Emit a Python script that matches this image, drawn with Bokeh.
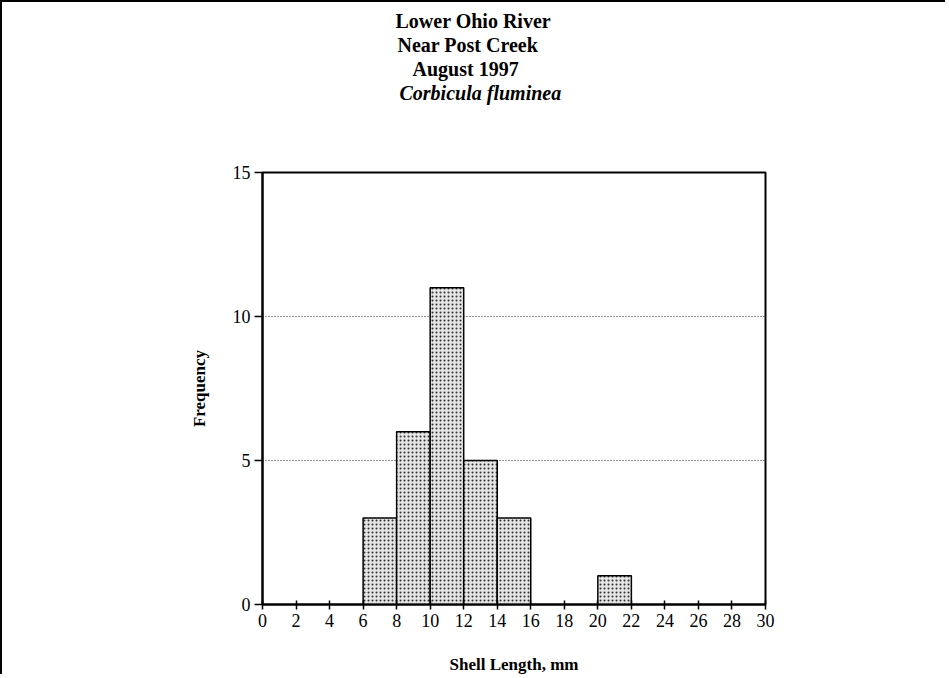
from bokeh.plotting import figure
from bokeh.models import FixedTicker, Title, Range1d
from bokeh.embed import file_html
from bokeh.resources import INLINE

# Data
bin_left = [6, 8, 10, 12, 14, 20]
bin_right = [8, 10, 12, 14, 16, 22]
frequency = [3, 6, 11, 5, 3, 1]
x_ticks = list(range(0, 31, 2))
y_ticks = [0, 5, 10, 15]
title_lines = ["Lower Ohio River", "Near Post Creek", "August 1997", "Corbicula fluminea"]
x_label = "Shell Length, mm"
y_label = "Frequency"

W, H = 945, 674
p = figure(width=W, height=H, output_backend="svg", toolbar_location=None,
           x_range=Range1d(0, 30), y_range=Range1d(0, 15),
           min_border_left=260, min_border_right=W - 763,
           min_border_top=170, min_border_bottom=H - 606)
p.styles = {"border-left": "2px solid black", "border-top": "2px solid black"}

p.outline_line_color = "black"
p.outline_line_width = 2
p.background_fill_color = "white"
p.border_fill_color = "white"

p.xgrid.visible = False
p.ygrid.ticker = FixedTicker(ticks=[5, 10])
p.ygrid.grid_line_color = "#222222"
p.ygrid.grid_line_dash = "1 2"
p.ygrid.grid_line_width = 1

p.quad(left=bin_left, right=bin_right, top=frequency, bottom=0,
       fill_color="#e4e4e4", hatch_pattern="dot", hatch_color="black",
       hatch_scale=4, hatch_weight=1, hatch_alpha=0.8,
       line_color="black", line_width=1.5)

for ax in (p.xaxis[0], p.yaxis[0]):
    ax.axis_line_color = "black"
    ax.axis_line_width = 2
    ax.major_tick_line_color = "black"
    ax.major_tick_line_width = 1.5
    ax.minor_tick_line_color = None
    ax.major_label_text_font = "Liberation Serif"
    ax.major_label_text_font_size = "18px"
    ax.major_label_text_color = "black"
    ax.axis_label_text_font = "Liberation Serif"
    ax.axis_label_text_font_size = "17px"
    ax.axis_label_text_font_style = "bold"
    ax.axis_label_text_color = "black"

p.xaxis.ticker = FixedTicker(ticks=x_ticks)
p.xaxis.major_tick_in = 4
p.xaxis.major_tick_out = 5
p.xaxis.major_label_standoff = 4
p.xaxis.axis_label = x_label
p.xaxis.axis_label_standoff = 25
p.yaxis.ticker = FixedTicker(ticks=y_ticks)
p.yaxis.major_tick_in = 0
p.yaxis.major_tick_out = 8
p.yaxis.major_label_standoff = 4
p.yaxis.axis_label = y_label
p.yaxis.axis_label_standoff = 21

# Empty spacer between the frame and the title block
p.add_layout(Title(text=" ", text_font_size="60px", standoff=0), "above")

# Title lines: added from the one nearest the frame outward
title_offsets = [133, 135, 150, 137]
for i in [3, 2, 1, 0]:
    p.add_layout(Title(text=title_lines[i], align="left", offset=title_offsets[i],
                       standoff=0,
                       text_font="Liberation Serif", text_font_size="20px",
                       text_font_style="bold italic" if i == 3 else "bold",
                       text_color="black"), "above")

open("out.html", "w").write(file_html(p, INLINE))
